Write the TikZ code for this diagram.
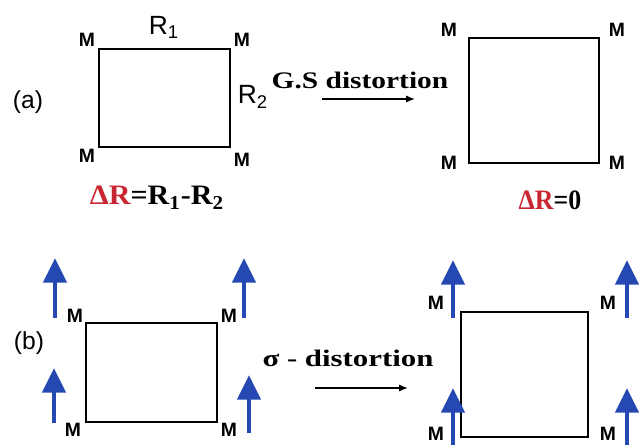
\documentclass[tikz,border=0pt]{standalone}
\usepackage{fontspec}
\setmainfont{Liberation Serif}
\newfontfamily\arialf{Liberation Sans}
\usepackage{graphicx}
\usetikzlibrary{arrows.meta,positioning,calc}
\definecolor{spinblue}{RGB}{38,72,178}
\definecolor{deltared}{RGB}{200,38,48}

\begin{document}
\begin{tikzpicture}[>={Latex[length=5pt,width=4pt]},
  mlbl/.style={font=\arialf\bfseries\fontsize{11}{12}\selectfont,inner sep=0pt},
  rlbl/.style={font=\arialf\fontsize{15}{16}\selectfont,inner sep=0pt},
  panel/.style={font=\arialf\fontsize{14}{16}\selectfont,inner sep=0pt},
  proc/.style={font=\bfseries\fontsize{13.5}{15}\selectfont,inner sep=0pt},
  delta/.style={font=\bfseries\fontsize{16}{18}\selectfont,inner sep=0pt},
  cell/.style={draw,line width=1.1pt},
  spin/.style={-{Triangle[width=13pt,length=14pt]},spinblue,line width=2.8pt}]
  \useasboundingbox (0,0) rectangle (12.84,8.9);
  % (a) G.S distortion
  \draw[cell] (1.98,5.96) rectangle (4.60,7.92);
  \draw[cell] (9.38,5.64) rectangle (11.98,8.14);
  \foreach \nm/\x/\y in {aTL/1.74/8.10,aTR/4.84/8.10,aBL/1.74/5.78,aBR/4.84/5.70,
                         sTL/8.98/8.30,sTR/12.34/8.30,sBL/8.98/5.64,sBR/12.34/5.64}
    \node[mlbl] (\nm) at (\x,\y) {M};
  \node[panel] (labA) at (0.56,6.86) {(a)};
  \node[rlbl] (rOne) at (3.28,8.36) {R\textsubscript{1}};
  \node[rlbl] (rTwo) at (5.06,6.96) {R\textsubscript{2}};
  \node[delta] (dRa) at (3.14,4.94)
    {\scalebox{1.07}[1]{\textcolor{deltared}{ΔR}=R\textsubscript{1}-R\textsubscript{2}}};
  \node[delta] (dRb) at (11.00,4.90)
    {\scalebox{0.92}[1]{\textcolor{deltared}{ΔR}=0}};
  \node[proc] (gs) at (7.20,7.30) {\scalebox{1.24}[1]{G.S distortion}};
  \coordinate (gsL) at (6.44,6.92);
  \coordinate (gsR) at (8.30,6.92);
  \draw[->,line width=0.8pt] (gsL) -- (gsR);
  % (b) sigma distortion
  \draw[cell] (1.72,0.46) rectangle (4.34,2.44);
  \draw[cell] (9.22,0.16) rectangle (11.76,2.66);
  \foreach \x/\ya/\yb in {1.10/2.54/3.74,4.88/2.54/3.74,1.08/0.44/1.54,4.98/0.24/1.40,
                          9.06/2.54/3.70,12.54/2.54/3.70,9.06/-0.1/1.14,12.54/-0.1/1.14}
    \draw[spin] (\x,\ya) -- (\x,\yb);
  \foreach \nm/\x/\y in {bTL/1.50/2.58,bTR/4.58/2.58,bBL/1.46/0.30,bBR/4.58/0.30,
                         tTL/8.72/2.84,tTR/12.16/2.84,tBL/8.72/0.22,tBR/12.16/0.22}
    \node[mlbl] (\nm) at (\x,\y) {M};
  \node[panel] (labB) at (0.58,2.04) {(b)};
  \node[proc] (sig) at (6.96,1.74) {\scalebox{1.3}[1]{σ - distortion}};
  \coordinate (sgL) at (6.30,1.14);
  \coordinate (sgR) at (8.16,1.14);
  \draw[->,line width=0.8pt] (sgL) -- (sgR);
\end{tikzpicture}
\end{document}
